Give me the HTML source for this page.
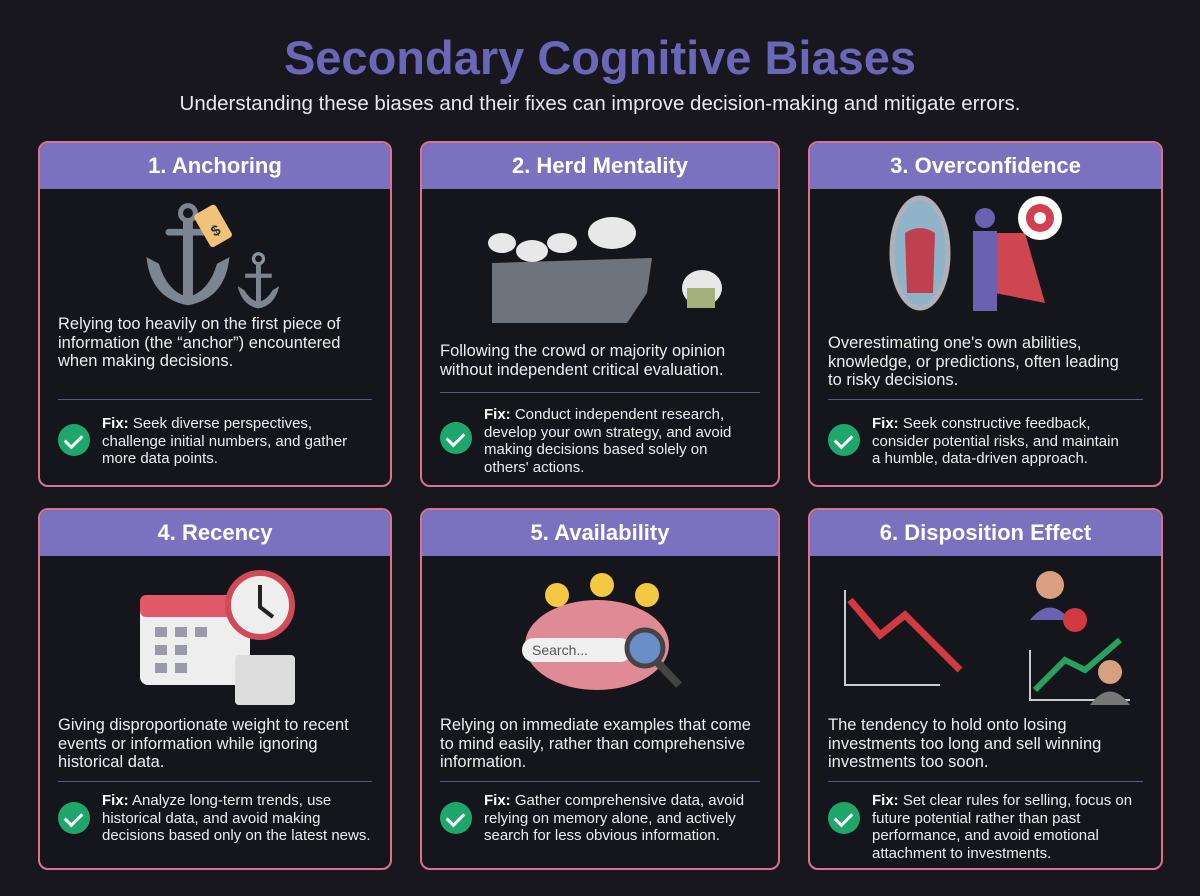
<!DOCTYPE html>
<html><head><meta charset="utf-8"><style>
*{margin:0;padding:0;box-sizing:border-box}
body{width:1200px;height:896px;background:#17171d;font-family:"Liberation Sans",sans-serif;position:relative;overflow:hidden;color:#eee}
h1{position:absolute;top:30px;left:0;width:1200px;text-align:center;font-size:47px;font-weight:bold;color:#6c66b8}
.sub{position:absolute;top:92px;left:0;width:1200px;text-align:center;font-size:20.5px;color:#e8e8ee}
.card{position:absolute;border:2px solid #d9738f;border-radius:10px;background:#15151c;overflow:hidden}
.hd{height:46px;background:#7a72bf;color:#fff;font-weight:bold;font-size:22px;text-align:center;line-height:46px}
.desc{position:absolute;left:18px;right:4px;font-size:16.5px;line-height:18.5px;color:#eee;white-space:nowrap}
.hr{position:absolute;left:18px;right:18px;height:1px;background:#5a5a80}
.fix{position:absolute;left:62px;right:2px;font-size:15px;line-height:17.5px;color:#eee;white-space:nowrap}
.fix b{color:#fff}
.chk{position:absolute;left:18px;width:32px;height:32px;border-radius:50%;background:#1fa66b}
.chk:after{content:"";position:absolute;left:10px;top:7px;width:8px;height:14px;border:solid #fff;border-width:0 3px 3px 0;transform:rotate(45deg)}
svg{position:absolute}
</style></head><body>
<h1>Secondary Cognitive Biases</h1>
<div class="sub">Understanding these biases and their fixes can improve decision-making and mitigate errors.</div>

<div class="card" style="left:38px;top:141px;width:354px;height:346px">
<div class="hd">1. Anchoring</div>
<svg style="left:92px;top:56px" width="170" height="112" viewBox="0 0 180 135">
<g fill="#7d8590"><circle cx="55" cy="17" r="9" fill="none" stroke="#7d8590" stroke-width="6"/><rect x="49" y="25" width="12" height="95"/><rect x="28" y="36" width="54" height="8" rx="4"/><path d="M5 70 L20 78 Q30 112 55 118 Q80 112 90 78 L105 70 Q100 120 55 128 Q10 120 5 70Z"/>
<circle cx="140" cy="72" r="6" fill="none" stroke="#8a929c" stroke-width="4"/><rect x="137" y="77" width="6" height="48"/><rect x="124" y="90" width="32" height="5"/><path d="M115 105 L123 110 Q130 122 140 124 Q150 122 157 110 L165 105 Q160 128 140 132 Q120 128 115 105Z"/></g>
<rect x="70" y="10" width="30" height="45" rx="4" fill="#f0c27a" transform="rotate(-30 85 32)"/><text x="80" y="45" font-size="18" fill="#333" font-weight="bold" transform="rotate(-30 85 32)">$</text></svg>
<div class="desc" style="top:172px">Relying too heavily on the first piece of<br>information (the “anchor”) encountered<br>when making decisions.</div>
<div class="hr" style="top:256px"></div>
<div class="chk" style="top:281px"></div>
<div class="fix" style="top:272px"><b>Fix:</b> Seek diverse perspectives,<br>challenge initial numbers, and gather<br>more data points.</div>
</div>

<div class="card" style="left:420px;top:141px;width:360px;height:346px">
<div class="hd">2. Herd Mentality</div>
<svg style="left:60px;top:70px" width="250" height="110" viewBox="0 0 250 110">
<path d="M10 50 L170 45 L165 80 L145 110 L10 110Z" fill="#6f747c"/>
<g fill="#e8e8e8"><ellipse cx="20" cy="30" rx="14" ry="10"/><ellipse cx="50" cy="38" rx="16" ry="11"/><ellipse cx="80" cy="30" rx="15" ry="10"/><ellipse cx="130" cy="20" rx="24" ry="16"/><ellipse cx="220" cy="75" rx="20" ry="18"/></g>
<rect x="205" y="75" width="28" height="20" fill="#a5b07a"/></svg>
<div class="desc" style="top:199px">Following the crowd or majority opinion<br>without independent critical evaluation.</div>
<div class="hr" style="top:249px"></div>
<div class="chk" style="top:279px"></div>
<div class="fix" style="top:263px"><b>Fix:</b> Conduct independent research,<br>develop your own strategy, and avoid<br>making decisions based solely on<br>others' actions.</div>
</div>

<div class="card" style="left:808px;top:141px;width:355px;height:346px">
<div class="hd">3. Overconfidence</div>
<svg style="left:75px;top:50px" width="200" height="130" viewBox="0 0 200 130">
<ellipse cx="35" cy="60" rx="28" ry="55" fill="#8fb3c8" stroke="#b0b0b8" stroke-width="5"/><path d="M20 40 Q35 30 50 40 L48 100 L22 100Z" fill="#c04050"/>
<path d="M90 40 L140 40 L160 110 L110 100Z" fill="#d04650"/><circle cx="100" cy="25" r="10" fill="#6a62b0"/><rect x="88" y="38" width="24" height="80" fill="#6a62b0"/>
<circle cx="155" cy="25" r="22" fill="#fff"/><circle cx="155" cy="25" r="14" fill="#d04050"/><circle cx="155" cy="25" r="6" fill="#fff"/></svg>
<div class="desc" style="top:191px">Overestimating one's own abilities,<br>knowledge, or predictions, often leading<br>to risky decisions.</div>
<div class="hr" style="top:256px"></div>
<div class="chk" style="top:281px"></div>
<div class="fix" style="top:272px"><b>Fix:</b> Seek constructive feedback,<br>consider potential risks, and maintain<br>a humble, data-driven approach.</div>
</div>

<div class="card" style="left:38px;top:508px;width:354px;height:362px">
<div class="hd">4. Recency</div>
<svg style="left:95px;top:55px" width="180" height="140" viewBox="0 0 180 140">
<rect x="5" y="30" width="110" height="90" rx="8" fill="#eee"/><rect x="5" y="30" width="110" height="22" rx="6" fill="#e05a6a"/>
<g fill="#9a9aa8"><rect x="20" y="62" width="12" height="10"/><rect x="40" y="62" width="12" height="10"/><rect x="60" y="62" width="12" height="10"/><rect x="20" y="80" width="12" height="10"/><rect x="40" y="80" width="12" height="10"/><rect x="20" y="98" width="12" height="10"/><rect x="40" y="98" width="12" height="10"/></g>
<rect x="100" y="90" width="60" height="50" rx="4" fill="#ddd"/><circle cx="125" cy="40" r="32" fill="#eee" stroke="#d04a58" stroke-width="6"/><path d="M125 20 L125 42 L138 52" stroke="#222" stroke-width="4" fill="none"/></svg>
<div class="desc" style="top:206px">Giving disproportionate weight to recent<br>events or information while ignoring<br>historical data.</div>
<div class="hr" style="top:271px"></div>
<div class="chk" style="top:292px"></div>
<div class="fix" style="top:282px"><b>Fix:</b> Analyze long-term trends, use<br>historical data, and avoid making<br>decisions based only on the latest news.</div>
</div>

<div class="card" style="left:420px;top:508px;width:360px;height:362px">
<div class="hd">5. Availability</div>
<svg style="left:95px;top:60px" width="180" height="130" viewBox="0 0 180 130">
<ellipse cx="80" cy="75" rx="72" ry="45" fill="#e08a96"/><circle cx="40" cy="25" r="12" fill="#f4c842"/><circle cx="85" cy="15" r="12" fill="#f4c842"/><circle cx="130" cy="25" r="12" fill="#f4c842"/>
<rect x="5" y="68" width="110" height="24" rx="12" fill="#f0f0f0"/><text x="15" y="85" font-size="14" fill="#555" font-family="Liberation Sans">Search...</text>
<circle cx="128" cy="78" r="18" fill="#6a8ec8" stroke="#444" stroke-width="5"/><path d="M140 92 L162 115" stroke="#444" stroke-width="8"/></svg>
<div class="desc" style="top:206px">Relying on immediate examples that come<br>to mind easily, rather than comprehensive<br>information.</div>
<div class="hr" style="top:271px"></div>
<div class="chk" style="top:292px"></div>
<div class="fix" style="top:282px"><b>Fix:</b> Gather comprehensive data, avoid<br>relying on memory alone, and actively<br>search for less obvious information.</div>
</div>

<div class="card" style="left:808px;top:508px;width:355px;height:362px">
<div class="hd">6. Disposition Effect</div>
<svg style="left:30px;top:50px" width="300" height="145" viewBox="0 0 300 145">
<path d="M5 30 L5 125 L100 125 M190 90 L190 140 L290 140" stroke="#ccc" stroke-width="2" fill="none"/>
<path d="M10 40 L40 75 L65 55 L120 110" stroke="#d03a40" stroke-width="7" fill="none"/><path d="M195 130 L225 100 L245 110 L280 80" stroke="#2aa060" stroke-width="6" fill="none"/>
<circle cx="210" cy="25" r="14" fill="#d8a080"/><path d="M190 60 Q210 35 230 60Z" fill="#6a62b0"/><circle cx="235" cy="60" r="12" fill="#d03a40"/>
<circle cx="270" cy="112" r="12" fill="#d8a080"/><path d="M250 145 Q270 118 290 145Z" fill="#777"/></svg>
<div class="desc" style="top:206px">The tendency to hold onto losing<br>investments too long and sell winning<br>investments too soon.</div>
<div class="hr" style="top:271px"></div>
<div class="chk" style="top:292px"></div>
<div class="fix" style="top:282px"><b>Fix:</b> Set clear rules for selling, focus on<br>future potential rather than past<br>performance, and avoid emotional<br>attachment to investments.</div>
</div>
</body></html>
